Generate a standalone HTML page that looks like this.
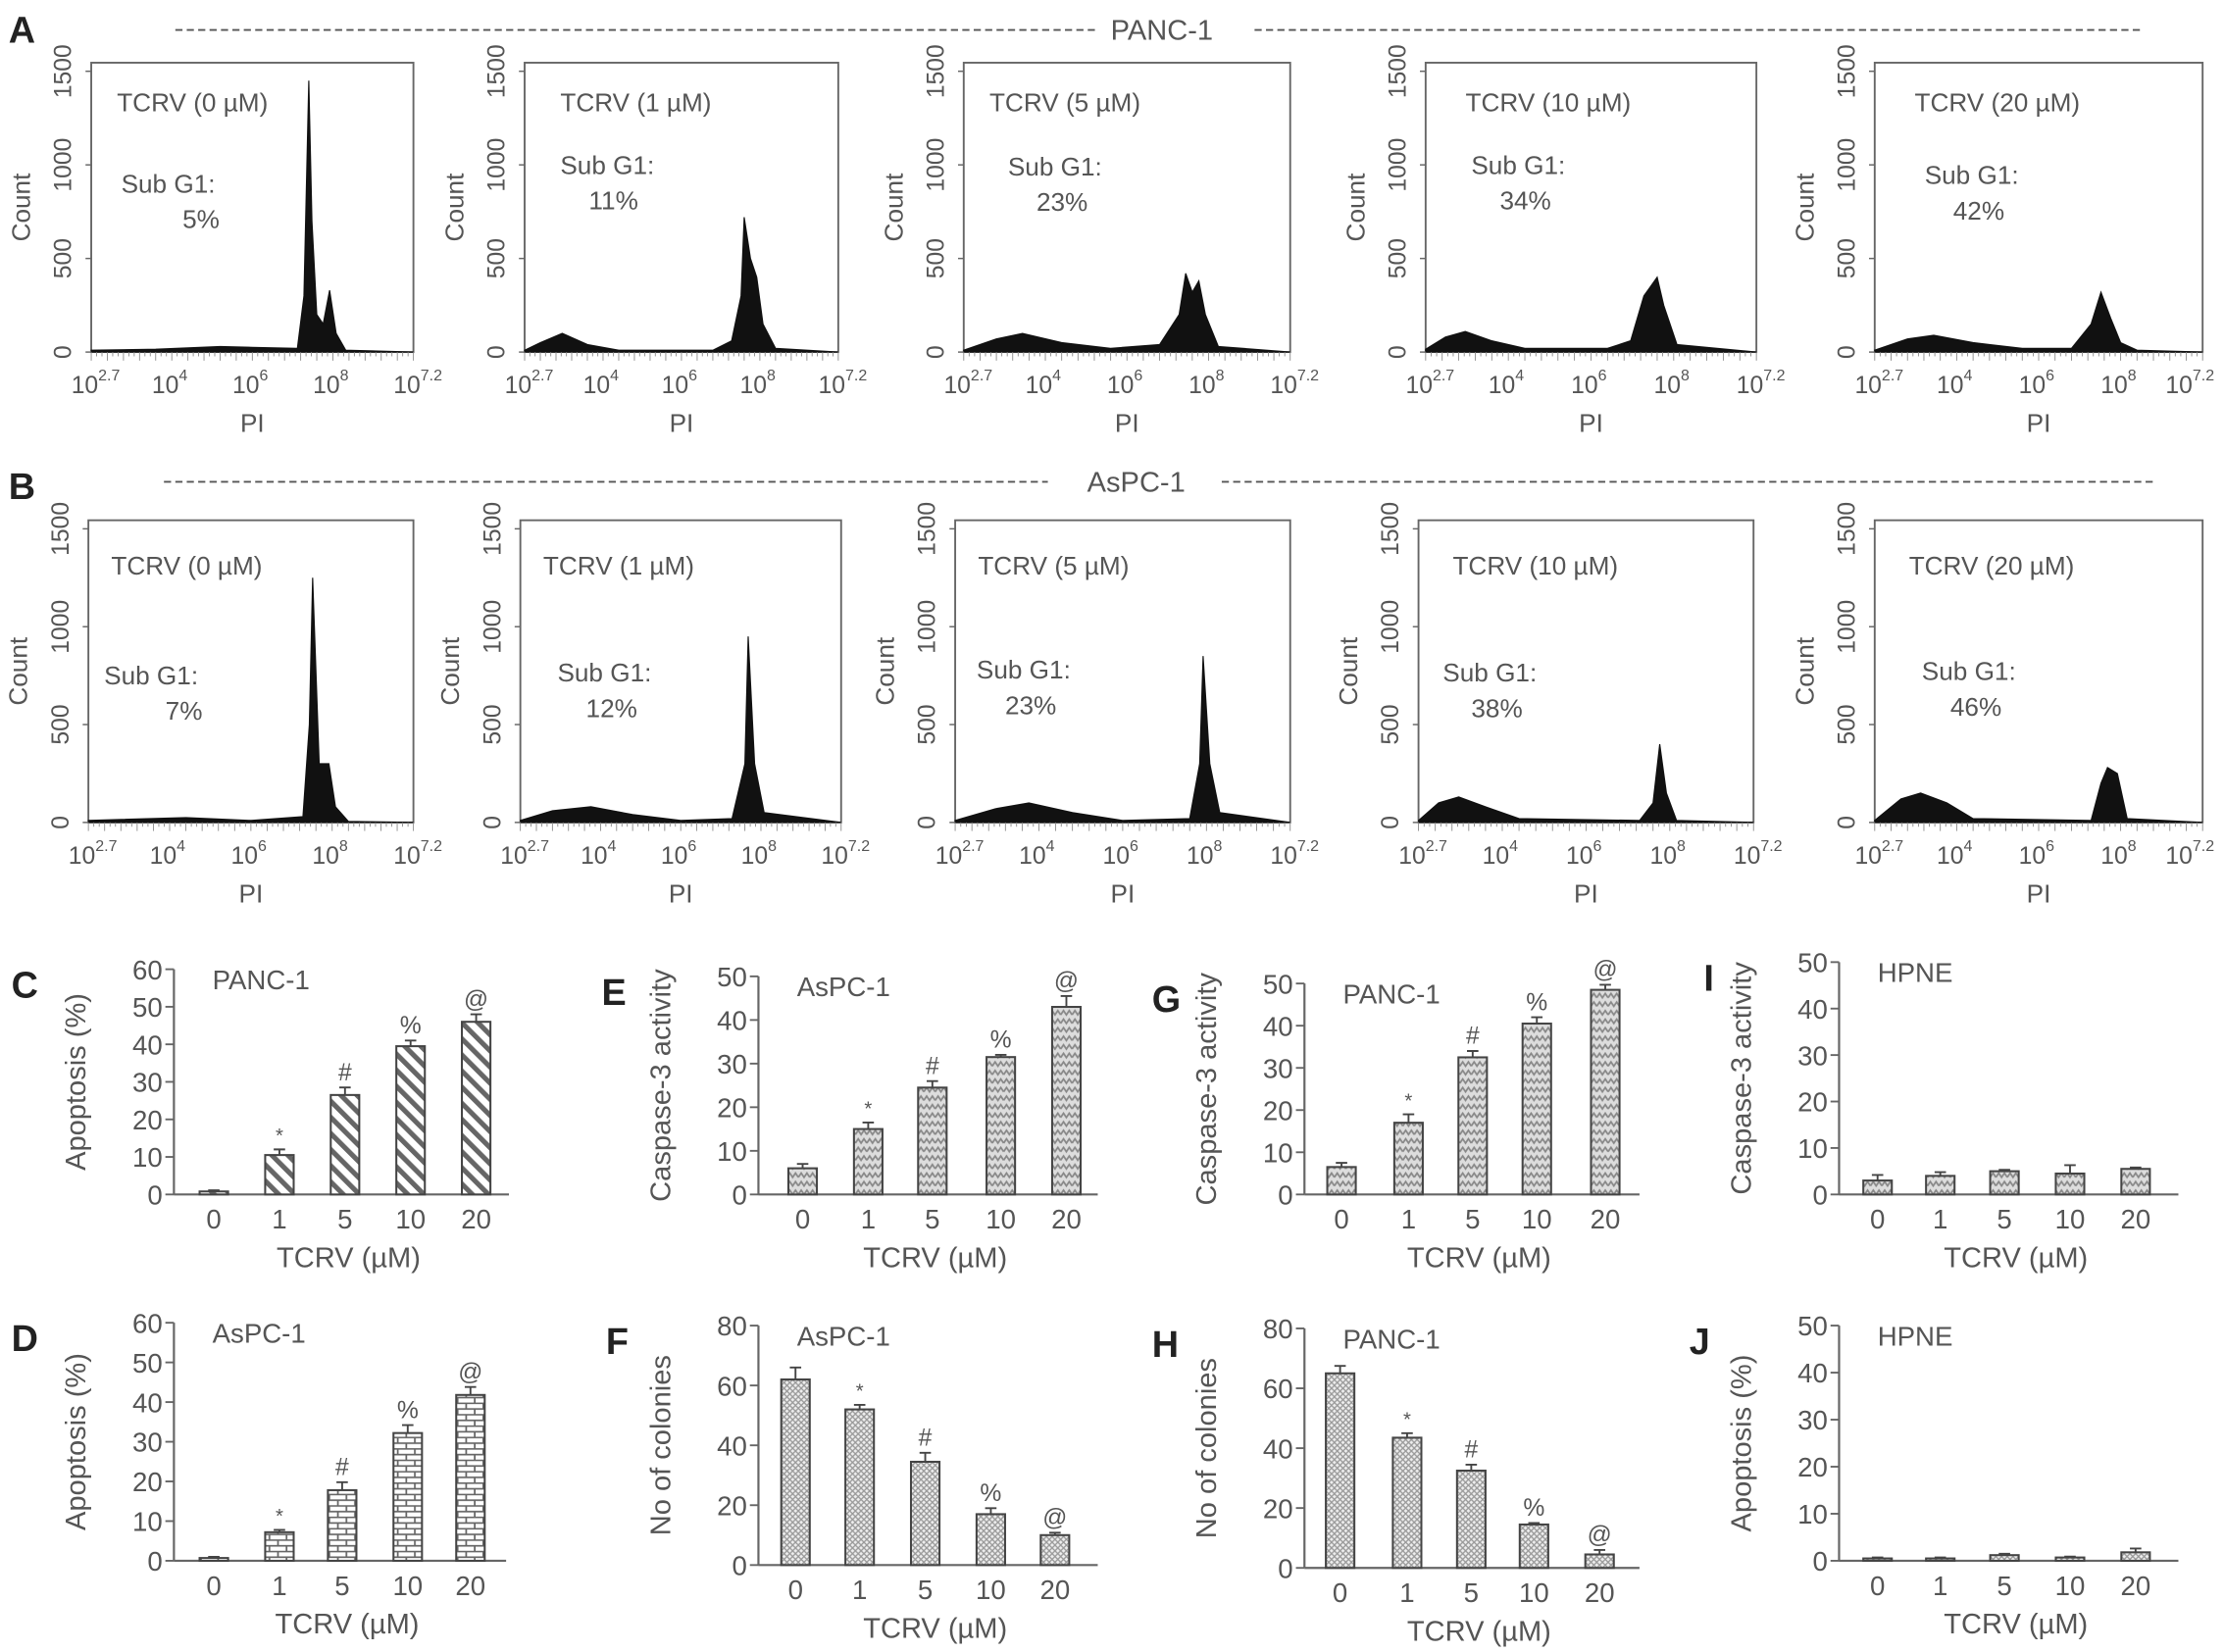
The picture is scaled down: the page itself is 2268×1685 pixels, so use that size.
<!DOCTYPE html>
<html><head><meta charset="utf-8"><style>
html,body{margin:0;padding:0;background:#fff}
svg{display:block}
text{font-family:"Liberation Sans",Arial,sans-serif;fill:#555}
</style></head><body>
<svg id="fig" xmlns="http://www.w3.org/2000/svg" width="2268" height="1685" viewBox="0 0 1560 1159" preserveAspectRatio="none">
<defs>
<pattern id="pDiag" width="8" height="8" patternUnits="userSpaceOnUse" patternTransform="rotate(-45)"><rect width="8" height="8" fill="#fff"/><rect width="3.5" height="8" fill="#666"/></pattern>
<pattern id="pBrick" width="12" height="8" patternUnits="userSpaceOnUse"><rect width="12" height="8" fill="#fff"/><path d="M0 0.5H12M0 4.5H12M3 0.5V4.5M9 4.5V8.5" stroke="#666" stroke-width="1.2" fill="none"/></pattern>
<pattern id="pZig" width="8" height="6" patternUnits="userSpaceOnUse"><rect width="8" height="6" fill="#ddd"/><path d="M0 4L2 1L4 4L6 1L8 4" stroke="#888" stroke-width="1.2" fill="none"/></pattern>
<pattern id="pCross" width="4" height="4" patternUnits="userSpaceOnUse"><rect width="4" height="4" fill="#eee"/><path d="M0 0L4 4M4 0L0 4" stroke="#999" stroke-width="0.9"/></pattern>
</defs>
<g id="root"></g>
</svg>
<script>
// ---------- Histogram data (x as fraction of axis, count) ----------
const histA1 = [[0,10],[0.2,15],[0.4,30],[0.5,25],[0.64,20],[0.66,300],[0.675,1450],[0.685,700],[0.7,200],[0.72,150],[0.74,330],[0.76,100],[0.79,10],[1,0]];
const histA2 = [[0,10],[0.05,50],[0.12,100],[0.2,40],[0.3,10],[0.6,10],[0.66,60],[0.69,300],[0.7,720],[0.72,500],[0.74,400],[0.76,150],[0.8,20],[1,0]];
const histA3 = [[0,10],[0.1,70],[0.18,100],[0.3,50],[0.45,20],[0.6,40],[0.66,200],[0.68,420],[0.7,320],[0.72,380],[0.74,200],[0.78,30],[1,0]];
const histA4 = [[0,15],[0.06,80],[0.12,110],[0.2,60],[0.3,20],[0.55,20],[0.62,60],[0.66,300],[0.68,350],[0.7,400],[0.72,250],[0.76,40],[1,0]];
const histA5 = [[0,10],[0.1,70],[0.18,90],[0.3,50],[0.45,20],[0.6,20],[0.66,150],[0.69,320],[0.72,180],[0.75,50],[0.8,10],[1,0]];
const histB1 = [[0,10],[0.3,25],[0.5,10],[0.66,30],[0.68,500],[0.69,1250],[0.71,300],[0.74,300],[0.76,80],[0.8,5],[1,0]];
const histB2 = [[0,10],[0.1,60],[0.22,80],[0.35,40],[0.5,10],[0.66,20],[0.7,300],[0.71,950],[0.73,300],[0.76,50],[1,0]];
const histB3 = [[0,10],[0.12,70],[0.22,100],[0.35,50],[0.5,10],[0.7,20],[0.73,300],[0.74,850],[0.76,300],[0.79,50],[1,0]];
const histB4 = [[0,10],[0.06,100],[0.12,130],[0.2,80],[0.3,20],[0.66,10],[0.7,100],[0.72,400],[0.74,150],[0.77,10],[1,0]];
const histB5 = [[0,10],[0.08,120],[0.14,150],[0.22,100],[0.3,20],[0.66,10],[0.69,200],[0.71,280],[0.74,250],[0.77,20],[1,0]];
const histTitles = ["TCRV (0 µM)","TCRV (1 µM)","TCRV (5 µM)","TCRV (10 µM)","TCRV (20 µM)"];
const subG1A = ["5%","11%","23%","34%","42%"];
const subG1B = ["7%","12%","23%","38%","46%"];
const histYTicks = [0,500,1000,1500];
const histXExp = ["2.7","4","6","8","7.2"];
const histXFrac = [0,0.25,0.5,0.75,1];

// ---------- Bar chart data ----------
const doses = ["0","1","5","10","20"];
const marks = ["","*","#","%","@"];
const valC = [0.8,10.5,26.5,39.5,46]; const errC = [0.3,1.5,2,1.5,2];
const valD = [0.7,7.2,17.8,32.2,41.8]; const errD = [0.3,0.6,2,2,2];
const valE = [6,15,24.5,31.5,43]; const errE = [1,1.5,1.5,0.5,2.5];
const valF = [62,52,34.5,17,10]; const errF = [4,1.5,3,2,0.8];
const valG = [6.5,17,32.5,40.5,48.5]; const errG = [1,2,1.5,1.5,1.2];
const valH = [65,43.5,32.5,14.5,4.5]; const errH = [2.5,1.5,2,0.5,1.5];
const valI = [3,4,5,4.5,5.5]; const errI = [1.2,0.8,0.3,1.8,0.3];
const valJ = [0.5,0.5,1.2,0.7,1.8]; const errJ = [0.2,0.2,0.3,0.2,0.8];
const ticks60 = [0,10,20,30,40,50,60];
const ticks50 = [0,10,20,30,40,50];
const ticks80 = [0,20,40,60,80];

const NS = "http://www.w3.org/2000/svg";
const root = document.getElementById('root');
function mk(tag, attrs, parent, txt){
  const e = document.createElementNS(NS, tag);
  for (const k in attrs) e.setAttribute(k, attrs[k]);
  if (txt !== undefined) e.textContent = txt;
  (parent || root).appendChild(e);
  return e;
}

// ---------- Row headers ----------
function header(letter, lx, ly, y, x1, x2, label, lblx, x3, x4){
  const t = mk('text',{x:lx,y:ly,'font-size':26,'font-weight':'bold'},root,letter);
  
  
  t.style.fill='#222';
  const d1 = mk('line',{x1:x1,x2:x2,y1:y,y2:y,stroke:'#555','stroke-width':1.3,'stroke-dasharray':'5,3'});
  
  
  const lt = mk('text',{x:lblx,y:y+7,'font-size':20,'text-anchor':'middle'},root,label);
  
  
  const d2 = mk('line',{x1:x3,x2:x4,y1:y,y2:y,stroke:'#555','stroke-width':1.3,'stroke-dasharray':'5,3'});
  
  
}
header('A',6,30,21,123,768,'PANC-1',815,880,1503);
header('B',6,350,338,115,735,'AsPC-1',797,857,1513);

// ---------- Histograms ----------
function hist(data, L, R, T, B, title, sub, subx, suby, tx, ty, name){
  const g = mk('g',{});
  
  
  const yS = v => B - (v/1500)*(B - T - 6);
  const xS = f => L + f*(R-L);
  const box = mk('rect',{x:L,y:T,width:R-L,height:B-T,fill:'none',stroke:'#666','stroke-width':1.3},g);
  
  
  let d = 'M'+xS(0)+' '+B;
  data.forEach(p => { d += ' L'+xS(p[0]).toFixed(1)+' '+yS(p[1]).toFixed(1); });
  d += ' L'+xS(1)+' '+B+' Z';
  const h = mk('path',{d:d,fill:'#111',stroke:'#111','stroke-width':0.8},g);
  
  
  for (let i=0;i<=60;i++){
    const f=i/60;
    const mt = mk('line',{x1:xS(f),x2:xS(f),y1:B,y2:B+((i%3==0)?6:3),stroke:'#888','stroke-width':0.6},g);
    
    
  }
  histYTicks.forEach(v => {
    const tx2 = L-14, ty2 = yS(v);
    const tk = mk('line',{x1:L-4,x2:L,y1:ty2,y2:ty2,stroke:'#666'},g);
    
    
    const lb = mk('text',{x:tx2,y:ty2,'font-size':17,'text-anchor':'middle',transform:'rotate(-90 '+tx2+' '+ty2+')'},g,String(v));
    
    
  });
  histXFrac.forEach((f,i) => {
    const x = xS(f);
    const off = (i === histXFrac.length-1 && R > 1500) ? -26 : -14;
    const lb = mk('text',{x:x+off,y:B+29,'font-size':17},g,'10');
    
    
    const ex = mk('tspan',{dy:-9,'font-size':11},lb,histXExp[i]);
    
    
  });
  const pi = mk('text',{x:(L+R)/2,y:B+56,'font-size':18,'text-anchor':'middle'},g,'PI');
  
  
  const cx = L-43, cy=(T+B)/2;
  const ct = mk('text',{x:cx,y:cy,'font-size':18,'text-anchor':'middle',transform:'rotate(-90 '+cx+' '+cy+')'},g,'Count');
  
  
  const tt = mk('text',{x:tx,y:ty,'font-size':18},g,title);
  
  
  const s1 = mk('text',{x:subx,y:suby,'font-size':18},g,'Sub G1:');
  
  
  const s2 = mk('text',{x:subx+ (sub.length>2?20:43),y:suby+25,'font-size':18},g,sub);
  
  
}
const histA = [histA1,histA2,histA3,histA4,histA5];
const histB = [histB1,histB2,histB3,histB4,histB5];
const boxA = [[64,290],[368,588],[676,905],[1000,1232],[1315,1545]];
const boxB = [[62,290],[365,590],[670,905],[995,1230],[1315,1545]];
const subPosA = [[85,135],[393,122],[707,123],[1032,122],[1350,129]];
const subPosB = [[73,480],[391,478],[685,476],[1012,478],[1348,477]];
for (let i=0;i<5;i++){
  hist(histA[i], boxA[i][0], boxA[i][1], 44, 247, histTitles[i], subG1A[i], subPosA[i][0], subPosA[i][1], boxA[i][0]+18+(i==1?7:0)+(i>=3?10:0), 78, 'histogram-panc1-'+i);
  hist(histB[i], boxB[i][0], boxB[i][1], 365, 577, histTitles[i], subG1B[i], subPosB[i][0], subPosB[i][1], boxB[i][0]+16+(i>=3?8:0), 403, 'histogram-aspc1-'+i);
}

// ---------- Bar charts ----------
function bars(vals, errs, ticks, ymax, ax, yTop, yBot, xEnd, centers, fill, letter, lx, label, ytitle, name){
  const g = mk('g',{});
  
  
  const yS = v => yBot - (v/ymax)*(yBot-yTop);
  const ya = mk('line',{x1:ax,x2:ax,y1:yTop,y2:yBot,stroke:'#666','stroke-width':1.5},g);
  
  
  const xa = mk('line',{x1:ax,x2:xEnd,y1:yBot,y2:yBot,stroke:'#666','stroke-width':1.5},g);
  
  
  ticks.forEach(v => {
    const y = yS(v);
    const tk = mk('line',{x1:ax-6,x2:ax,y1:y,y2:y,stroke:'#666','stroke-width':1.3},g);
    
    
    const lb = mk('text',{x:ax-8,y:y+7,'font-size':19,'text-anchor':'end'},g,String(v));
    
    
  });
  const bw = 20;
  vals.forEach((v,i) => {
    const cx = centers[i], y = yS(v);
    const r = mk('rect',{x:cx-bw/2,y:y,width:bw,height:Math.max(yBot-y,1.5),fill:fill,stroke:'#444','stroke-width':1.4},g);
    
    
    const ye = yS(v+errs[i]);
    const eb = mk('path',{d:'M'+cx+' '+y+'V'+ye+'M'+(cx-4)+' '+ye+'H'+(cx+4),stroke:'#444','stroke-width':1.3,fill:'none'},g);
    
    
    if (marks[i] && name.indexOf('hpne')<0){
      const m = mk('text',{x:cx,y:ye-5,'font-size':marks[i]=='*'?14:17,'text-anchor':'middle'},g,marks[i]);
      
      
    }
    const xl = mk('text',{x:cx,y:yBot+24,'font-size':19,'text-anchor':'middle'},g,doses[i]);
    
    
  });
  const xt = mk('text',{x:(ax+xEnd)/2+5,y:yBot+51,'font-size':20,'text-anchor':'middle'},g,'TCRV (µM)');
  
  
  const tx = ax - 62, ty = (yTop+yBot)/2;
  const yt = mk('text',{x:tx,y:ty,'font-size':20,'text-anchor':'middle',transform:'rotate(-90 '+tx+' '+ty+')'},g,ytitle);
  
  
  const lt = mk('text',{x:lx,y:yTop+20,'font-size':26,'font-weight':'bold'},g,letter);
  
  
  lt.style.fill='#222';
  const cl = mk('text',{x:ax+27,y:yTop+14,'font-size':19},g,label);
  
  
}
bars(valC, errC, ticks60, 60, 122, 680, 838, 357, [150,196,242,288,334], 'url(#pDiag)', 'C', 8, 'PANC-1', 'Apoptosis (%)', 'chart-c-panc1-apoptosis');
bars(valD, errD, ticks60, 60, 122, 928, 1095, 355, [150,196,240,286,330], 'url(#pBrick)', 'D', 8, 'AsPC-1', 'Apoptosis (%)', 'chart-d-aspc1-apoptosis');
bars(valE, errE, ticks50, 50, 532, 685, 838, 770, [563,609,654,702,748], 'url(#pZig)', 'E', 422, 'AsPC-1', 'Caspase-3 activity', 'chart-e-aspc1-caspase');
bars(valF, errF, ticks80, 80, 532, 930, 1098, 770, [558,603,649,695,740], 'url(#pCross)', 'F', 425, 'AsPC-1', 'No of colonies', 'chart-f-aspc1-colonies');
bars(valG, errG, ticks50, 50, 915, 690, 838, 1150, [941,988,1033,1078,1126], 'url(#pZig)', 'G', 808, 'PANC-1', 'Caspase-3 activity', 'chart-g-panc1-caspase');
bars(valH, errH, ticks80, 80, 915, 932, 1100, 1150, [940,987,1032,1076,1122], 'url(#pCross)', 'H', 808, 'PANC-1', 'No of colonies', 'chart-h-panc1-colonies');
bars(valI, errI, ticks50, 50, 1290, 675, 838, 1528, [1317,1361,1406,1452,1498], 'url(#pZig)', 'I', 1195, 'HPNE', 'Caspase-3 activity', 'chart-i-hpne-caspase');
bars(valJ, errJ, ticks50, 50, 1290, 930, 1095, 1528, [1317,1361,1406,1452,1498], 'url(#pCross)', 'J', 1185, 'HPNE', 'Apoptosis (%)', 'chart-j-hpne-apoptosis');
</script>
</body></html>
